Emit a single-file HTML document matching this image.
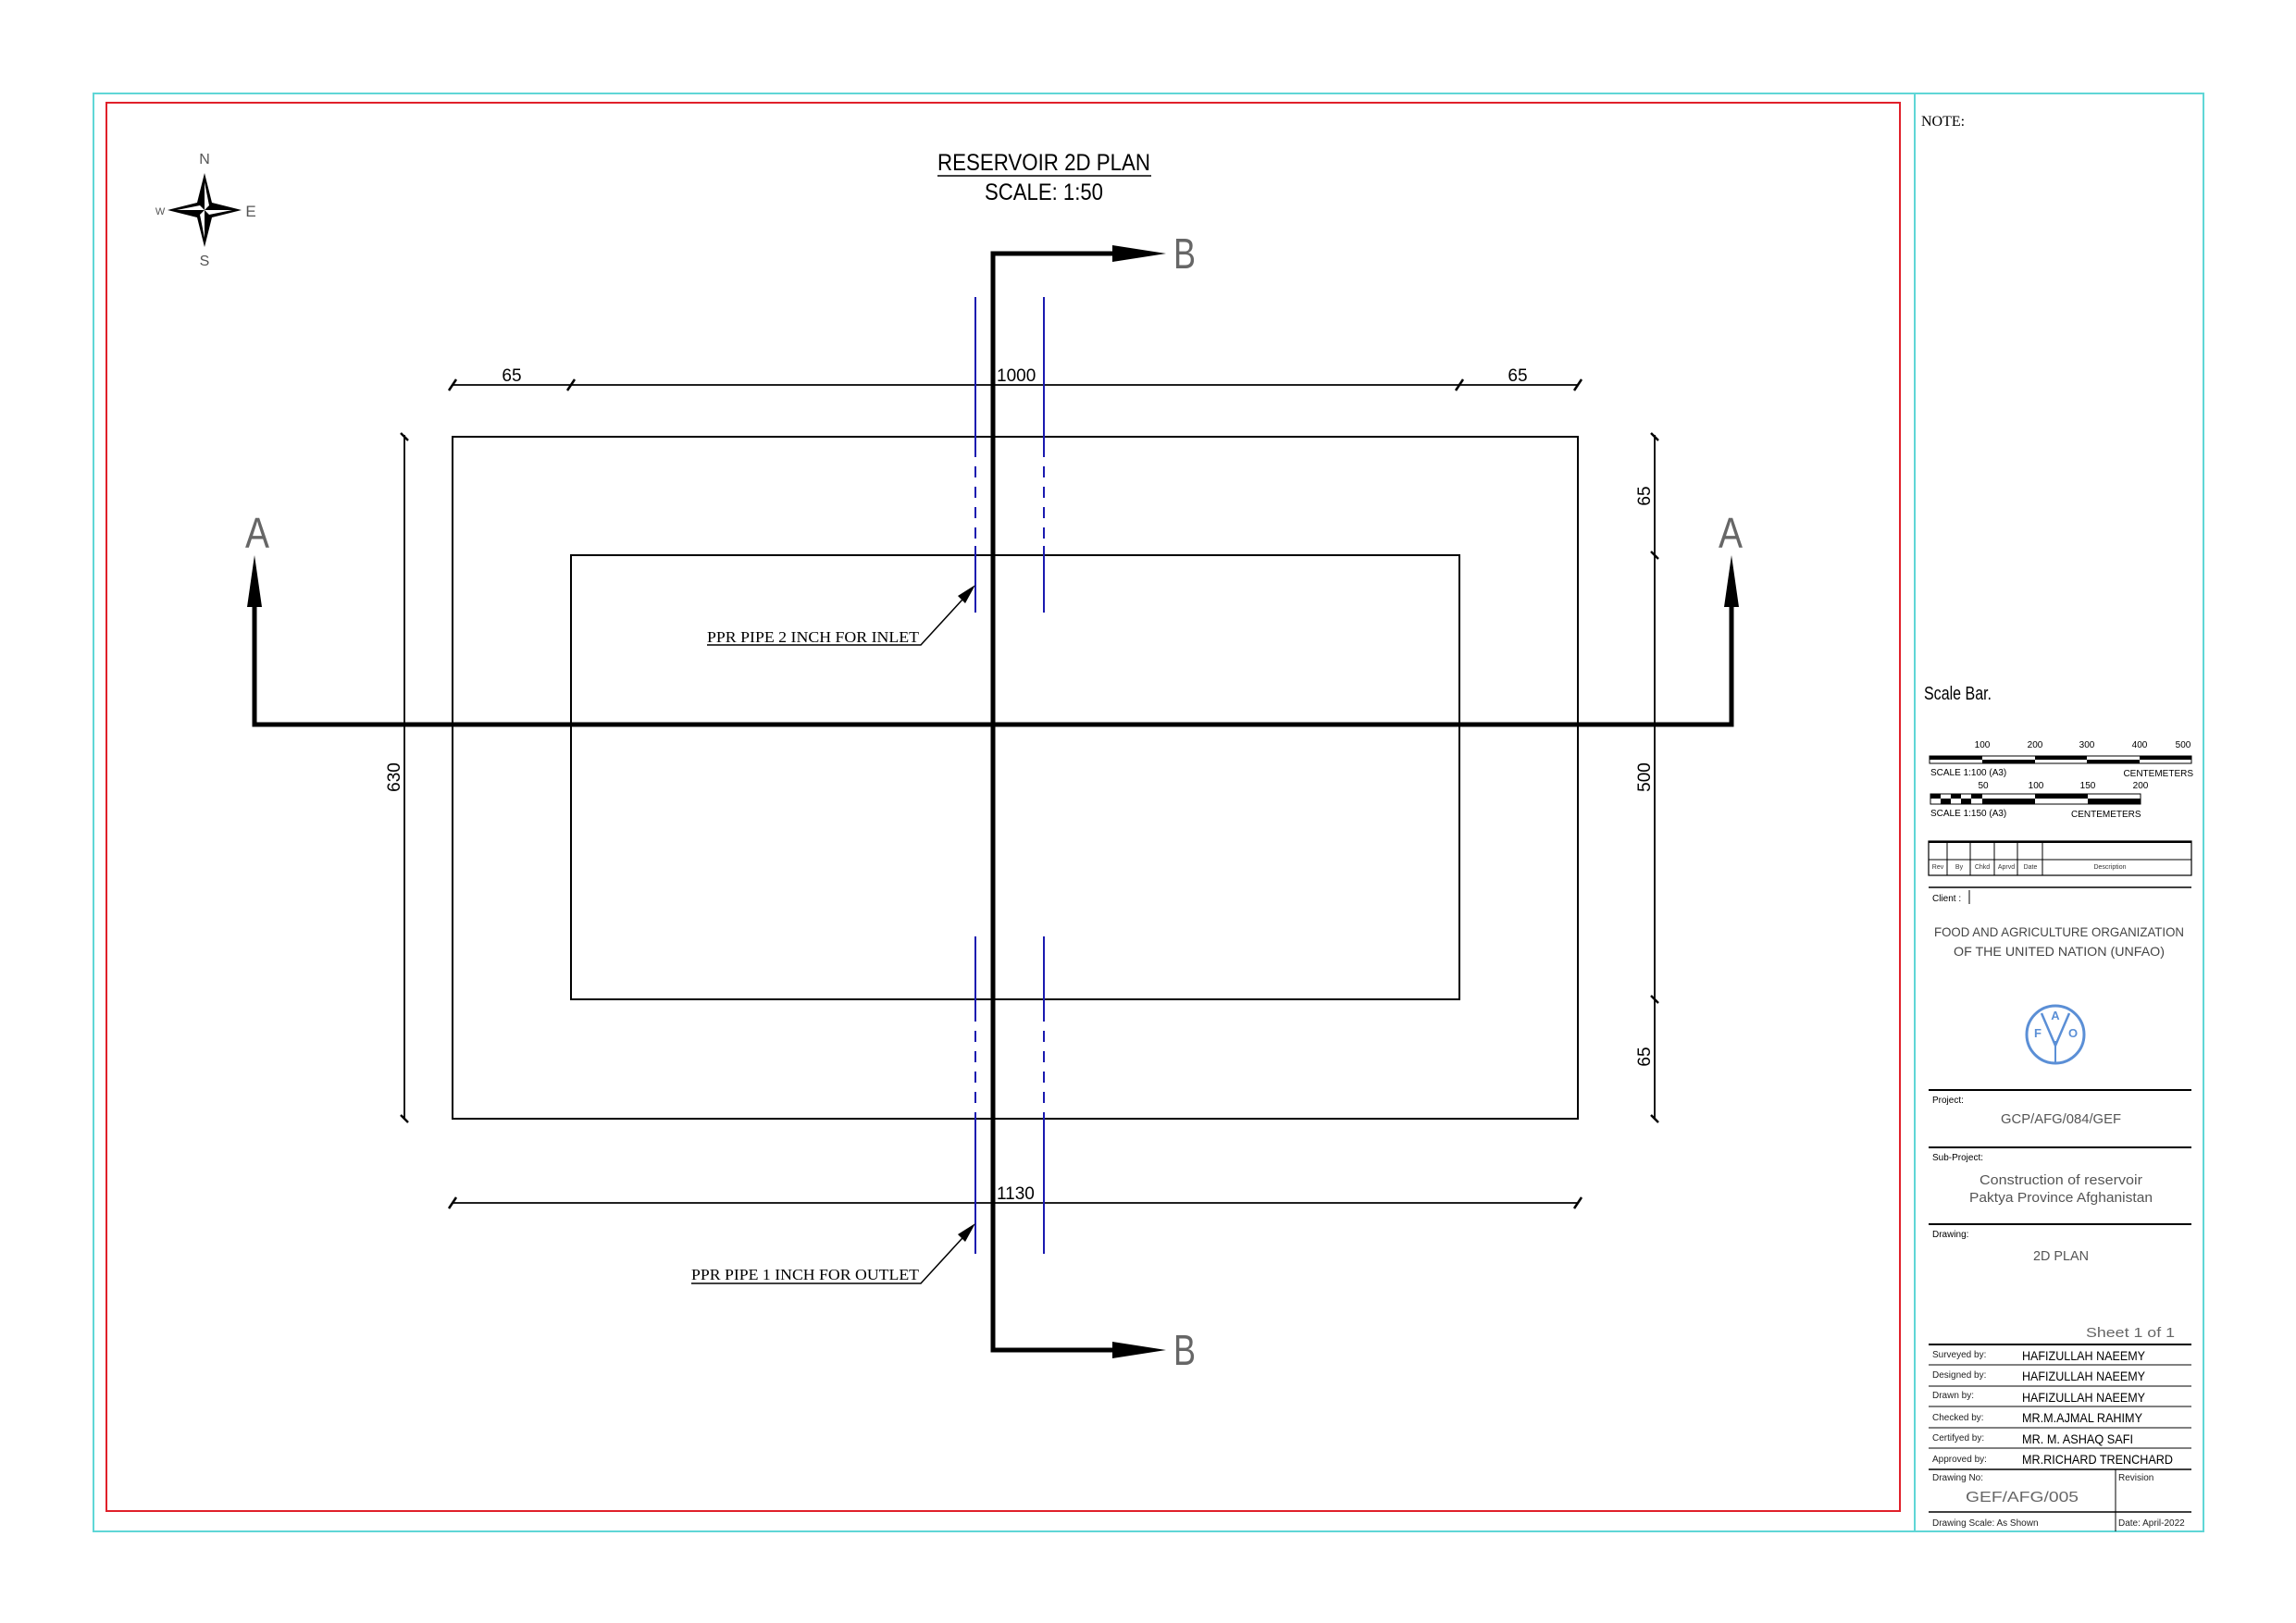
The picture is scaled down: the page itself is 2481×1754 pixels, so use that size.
<!DOCTYPE html>
<html><head><meta charset="utf-8"><style>
html,body{margin:0;padding:0;background:#fff;}
svg{display:block;}
text{font-family:"Liberation Sans",sans-serif;}
</style></head><body>
<svg width="2481" height="1754" viewBox="0 0 2481 1754" xmlns="http://www.w3.org/2000/svg">
<rect width="2481" height="1754" fill="#fff"/>
<!-- frames -->
<rect x="101" y="101" width="2280" height="1554" fill="none" stroke="#5fd6d6" stroke-width="2"/>
<line x1="2069" y1="101" x2="2069" y2="1655" stroke="#5fd6d6" stroke-width="2"/>
<rect x="115" y="111" width="1938" height="1522" fill="none" stroke="#e0202a" stroke-width="2"/>

<!-- title -->
<text x="1128" y="184" font-size="25" text-anchor="middle" textLength="230" lengthAdjust="spacingAndGlyphs">RESERVOIR 2D PLAN</text>
<line x1="1013" y1="190" x2="1244" y2="190" stroke="#000" stroke-width="1.5"/>
<text x="1128" y="216" font-size="25" text-anchor="middle" textLength="128" lengthAdjust="spacingAndGlyphs">SCALE: 1:50</text>

<!-- compass -->
<g transform="translate(221,227)">
<polygon points="0,-40 8,-8 40,0 8,8 0,40 -8,8 -40,0 -8,-8" fill="#000"/>
<polygon points="0,-30 5,-5 0,0" fill="#fff"/>
<polygon points="30,0 5,5 0,0" fill="#fff"/>
<polygon points="0,30 -5,5 0,0" fill="#fff"/>
<polygon points="-30,0 -5,-5 0,0" fill="#fff"/>
<text x="0" y="-50" font-size="16" text-anchor="middle" fill="#555">N</text>
<text x="0" y="60" font-size="16" text-anchor="middle" fill="#555">S</text>
<text x="-48" y="5" font-size="11" text-anchor="middle" fill="#555">W</text>
<text x="50" y="7" font-size="17" text-anchor="middle" fill="#555">E</text>
</g>

<!-- rectangles -->
<rect x="489" y="472" width="1216" height="737" fill="none" stroke="#000" stroke-width="2"/>
<rect x="617" y="600" width="960" height="480" fill="none" stroke="#000" stroke-width="2"/>

<!-- dimension lines -->
<g stroke="#000" stroke-width="1.8">
<line x1="489" y1="416" x2="1705" y2="416"/>
<line x1="489" y1="1300" x2="1705" y2="1300"/>
<line x1="437" y1="470" x2="437" y2="1210"/>
<line x1="1788" y1="470" x2="1788" y2="1210"/>
</g>
<g stroke="#000" stroke-width="2.5">
<line x1="485" y1="422" x2="493" y2="410"/><line x1="613" y1="422" x2="621" y2="410"/>
<line x1="1573" y1="422" x2="1581" y2="410"/><line x1="1701" y1="422" x2="1709" y2="410"/>
<line x1="485" y1="1306" x2="493" y2="1294"/><line x1="1701" y1="1306" x2="1709" y2="1294"/>
<line x1="433" y1="468" x2="441" y2="476"/><line x1="433" y1="1205" x2="441" y2="1213"/>
<line x1="1784" y1="468" x2="1792" y2="476"/><line x1="1784" y1="596" x2="1792" y2="604"/>
<line x1="1784" y1="1076" x2="1792" y2="1084"/><line x1="1784" y1="1205" x2="1792" y2="1213"/>
</g>
<g font-size="19">
<text x="553" y="412" text-anchor="middle">65</text>
<text x="1077" y="412">1000</text>
<text x="1640" y="412" text-anchor="middle">65</text>
<text x="1077" y="1296">1130</text>
<text transform="translate(432,840) rotate(-90)" text-anchor="middle">630</text>
<text transform="translate(1783,536) rotate(-90)" text-anchor="middle">65</text>
<text transform="translate(1783,840) rotate(-90)" text-anchor="middle">500</text>
<text transform="translate(1783,1142) rotate(-90)" text-anchor="middle">65</text>
</g>

<!-- blue pipes -->
<g stroke="#1a1ab0" stroke-width="2">
<line x1="1054" y1="321" x2="1054" y2="482"/><line x1="1054" y1="482" x2="1054" y2="590" stroke-dasharray="12,10"/><line x1="1054" y1="590" x2="1054" y2="662"/>
<line x1="1128" y1="321" x2="1128" y2="482"/><line x1="1128" y1="482" x2="1128" y2="590" stroke-dasharray="12,10"/><line x1="1128" y1="590" x2="1128" y2="662"/>
<line x1="1054" y1="1012" x2="1054" y2="1092"/><line x1="1054" y1="1092" x2="1054" y2="1202" stroke-dasharray="12,10"/><line x1="1054" y1="1202" x2="1054" y2="1355"/>
<line x1="1128" y1="1012" x2="1128" y2="1092"/><line x1="1128" y1="1092" x2="1128" y2="1202" stroke-dasharray="12,10"/><line x1="1128" y1="1202" x2="1128" y2="1355"/>
</g>

<!-- section lines -->
<g stroke="#000" stroke-width="5" fill="none">
<polyline points="275,656 275,783 1871,783 1871,656"/>
<polyline points="1225,274 1073,274 1073,1459 1225,1459"/>
</g>
<polygon points="275,600 267,656 283,656" fill="#000"/>
<polygon points="1871,600 1863,656 1879,656" fill="#000"/>
<polygon points="1260,274 1202,265 1202,283" fill="#000"/>
<polygon points="1260,1459 1202,1450 1202,1468" fill="#000"/>
<g font-size="46" fill="#666" font-weight="normal" text-anchor="middle">
<text x="278" y="592" textLength="26" lengthAdjust="spacingAndGlyphs">A</text>
<text x="1870" y="592" textLength="26" lengthAdjust="spacingAndGlyphs">A</text>
<text x="1280" y="290" textLength="24" lengthAdjust="spacingAndGlyphs">B</text>
<text x="1280" y="1475" textLength="24" lengthAdjust="spacingAndGlyphs">B</text>
</g>

<!-- leaders -->
<g font-family="Liberation Serif" font-size="17">
<text x="764" y="694" style="font-family:'Liberation Serif',serif" textLength="229" lengthAdjust="spacingAndGlyphs">PPR PIPE 2 INCH FOR INLET</text>
<text x="747" y="1383" style="font-family:'Liberation Serif',serif" textLength="246" lengthAdjust="spacingAndGlyphs">PPR PIPE 1 INCH FOR OUTLET</text>
</g>
<g stroke="#000" stroke-width="1.5" fill="none">
<polyline points="764,697 995,697 1050,637"/>
<polyline points="747,1387 995,1387 1050,1327"/>
</g>
<polygon points="1054,632 1035,644 1043,652" fill="#000"/>
<polygon points="1054,1322 1035,1334 1043,1342" fill="#000"/>

<!-- right panel -->
<text x="2076" y="136" font-size="16" style="font-family:'Liberation Serif',serif">NOTE:</text>
<text x="2079" y="756" font-size="20" textLength="73" lengthAdjust="spacingAndGlyphs">Scale Bar.</text>

<g font-size="10">
<text x="2142" y="808" text-anchor="middle">100</text>
<text x="2199" y="808" text-anchor="middle">200</text>
<text x="2255" y="808" text-anchor="middle">300</text>
<text x="2312" y="808" text-anchor="middle">400</text>
<text x="2359" y="808" text-anchor="middle">500</text>
<text x="2086" y="838">SCALE 1:100 (A3)</text>
<text x="2370" y="839" text-anchor="end">CENTEMETERS</text>
<text x="2143" y="852" text-anchor="middle">50</text>
<text x="2200" y="852" text-anchor="middle">100</text>
<text x="2256" y="852" text-anchor="middle">150</text>
<text x="2313" y="852" text-anchor="middle">200</text>
<text x="2086" y="882">SCALE 1:150 (A3)</text>
<text x="2238" y="883">CENTEMETERS</text>
</g>
<rect x="2085" y="817" width="283" height="8" fill="none" stroke="#000" stroke-width="1"/>
<g fill="#000">
<rect x="2085" y="817" width="57" height="4"/><rect x="2142" y="821" width="57" height="4"/>
<rect x="2199" y="817" width="56" height="4"/><rect x="2255" y="821" width="57" height="4"/>
<rect x="2312" y="817" width="56" height="4"/>
</g>
<rect x="2086" y="858" width="227" height="11" fill="none" stroke="#000" stroke-width="1"/>
<g fill="#000">
<rect x="2086" y="858" width="11" height="5"/><rect x="2097" y="863" width="11" height="6"/>
<rect x="2108" y="858" width="11" height="5"/><rect x="2119" y="863" width="11" height="6"/>
<rect x="2130" y="858" width="12" height="5"/><rect x="2142" y="863" width="57" height="6"/>
<rect x="2199" y="858" width="57" height="5"/><rect x="2256" y="863" width="57" height="6"/>
</g>

<!-- rev table -->
<g stroke="#000" fill="none">
<rect x="2084" y="909" width="284" height="37" stroke-width="1.2"/>
<line x1="2084" y1="910" x2="2368" y2="910" stroke-width="2"/>
<line x1="2084" y1="929" x2="2368" y2="929"/>
<line x1="2104" y1="909" x2="2104" y2="946"/><line x1="2129" y1="909" x2="2129" y2="946"/>
<line x1="2155" y1="909" x2="2155" y2="946"/><line x1="2180" y1="909" x2="2180" y2="946"/>
<line x1="2207" y1="909" x2="2207" y2="946"/>
</g>
<g font-size="7" fill="#333" text-anchor="middle">
<text x="2094" y="939">Rev</text><text x="2117" y="939">By</text><text x="2142" y="939">Chkd</text>
<text x="2168" y="939">Aprvd</text><text x="2194" y="939">Date</text><text x="2280" y="939">Description</text>
</g>

<g stroke="#000" stroke-width="1.5">
<line x1="2084" y1="959" x2="2368" y2="959"/>
<line x1="2084" y1="1178" x2="2368" y2="1178" stroke-width="2"/>
<line x1="2084" y1="1240" x2="2368" y2="1240" stroke-width="2"/>
<line x1="2084" y1="1323" x2="2368" y2="1323" stroke-width="2"/>
<line x1="2084" y1="1453" x2="2368" y2="1453" stroke-width="2"/>
<line x1="2084" y1="1475" x2="2368" y2="1475" stroke-width="1"/>
<line x1="2084" y1="1498" x2="2368" y2="1498" stroke-width="1"/>
<line x1="2084" y1="1520" x2="2368" y2="1520" stroke-width="1"/>
<line x1="2084" y1="1543" x2="2368" y2="1543" stroke-width="1"/>
<line x1="2084" y1="1565" x2="2368" y2="1565" stroke-width="1"/>
<line x1="2084" y1="1588" x2="2368" y2="1588"/>
<line x1="2084" y1="1634" x2="2368" y2="1634"/>
<line x1="2286" y1="1588" x2="2286" y2="1655" stroke-width="1"/>
<line x1="2128" y1="962" x2="2128" y2="977" stroke-width="1"/>
</g>
<text x="2088" y="974" font-size="10">Client :</text>
<g font-size="14" fill="#444" text-anchor="middle">
<text x="2225" y="1012" textLength="270" lengthAdjust="spacingAndGlyphs">FOOD AND AGRICULTURE ORGANIZATION</text>
<text x="2225" y="1033" textLength="228" lengthAdjust="spacingAndGlyphs">OF THE UNITED NATION (UNFAO)</text>
</g>
<!-- FAO logo -->
<g stroke="#5b8fd6" fill="none" stroke-width="3">
<circle cx="2221" cy="1118" r="31"/>
<path d="M2206,1095 L2221,1130 L2236,1095" stroke-width="2.5"/>
<line x1="2221" y1="1125" x2="2221" y2="1148" stroke-width="2"/>
</g>
<g fill="#5b8fd6" font-size="13" font-weight="bold" text-anchor="middle">
<text x="2221" y="1102">A</text><text x="2202" y="1121">F</text><text x="2240" y="1121">O</text>
</g>

<text x="2088" y="1192" font-size="10">Project:</text>
<text x="2227" y="1214" font-size="15" fill="#555" text-anchor="middle" textLength="130" lengthAdjust="spacingAndGlyphs">GCP/AFG/084/GEF</text>
<text x="2088" y="1254" font-size="10">Sub-Project:</text>
<g font-size="15" fill="#555" text-anchor="middle">
<text x="2227" y="1280" textLength="176" lengthAdjust="spacingAndGlyphs">Construction of reservoir</text>
<text x="2227" y="1299" textLength="198" lengthAdjust="spacingAndGlyphs">Paktya Province Afghanistan</text>
</g>
<text x="2088" y="1337" font-size="10">Drawing:</text>
<text x="2227" y="1362" font-size="15" fill="#555" text-anchor="middle" textLength="60" lengthAdjust="spacingAndGlyphs">2D PLAN</text>
<text x="2350" y="1445" font-size="15" fill="#666" text-anchor="end" textLength="96" lengthAdjust="spacingAndGlyphs">Sheet 1 of 1</text>

<g font-size="10" fill="#222">
<text x="2088" y="1467">Surveyed  by:</text>
<text x="2088" y="1489">Designed by:</text>
<text x="2088" y="1511">Drawn by:</text>
<text x="2088" y="1535">Checked by:</text>
<text x="2088" y="1557">Certifyed by:</text>
<text x="2088" y="1580">Approved by:</text>
<text x="2088" y="1600">Drawing No:</text>
<text x="2289" y="1600">Revision</text>
<text x="2088" y="1649">Drawing Scale:   As Shown</text>
<text x="2289" y="1649">Date: April-2022</text>
</g>
<g font-size="14">
<text x="2185" y="1470" textLength="133" lengthAdjust="spacingAndGlyphs">HAFIZULLAH NAEEMY</text>
<text x="2185" y="1492" textLength="133" lengthAdjust="spacingAndGlyphs">HAFIZULLAH NAEEMY</text>
<text x="2185" y="1515" textLength="133" lengthAdjust="spacingAndGlyphs">HAFIZULLAH NAEEMY</text>
<text x="2185" y="1537" textLength="130" lengthAdjust="spacingAndGlyphs">MR.M.AJMAL RAHIMY</text>
<text x="2185" y="1560" textLength="120" lengthAdjust="spacingAndGlyphs">MR. M. ASHAQ SAFI</text>
<text x="2185" y="1582" textLength="163" lengthAdjust="spacingAndGlyphs">MR.RICHARD TRENCHARD</text>
</g>
<text x="2185" y="1623" font-size="16" fill="#666" text-anchor="middle" textLength="122" lengthAdjust="spacingAndGlyphs">GEF/AFG/005</text>
</svg>
</body></html>
